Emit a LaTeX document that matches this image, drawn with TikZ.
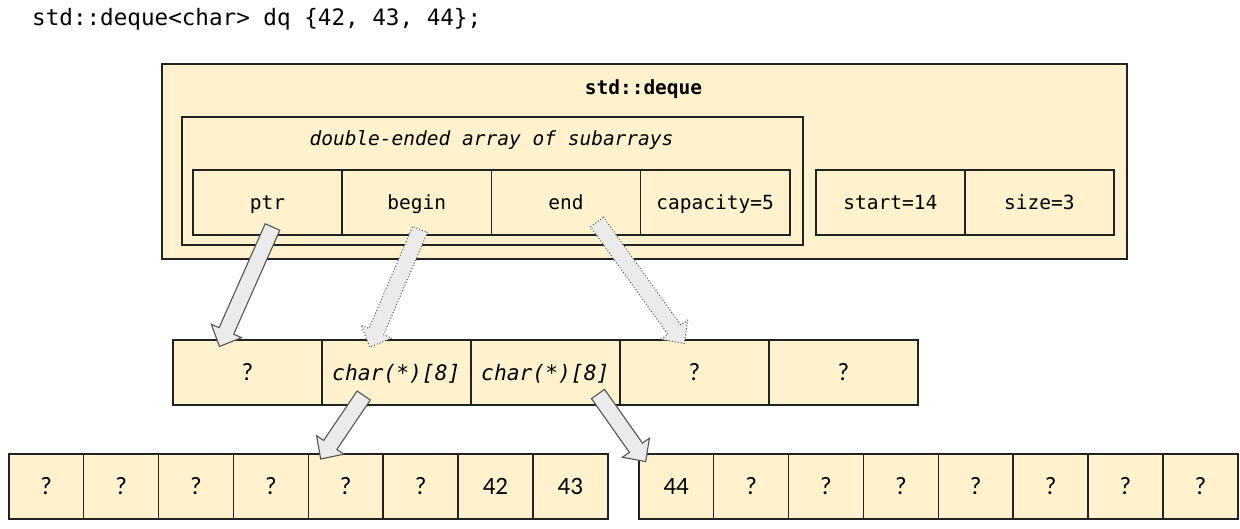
\documentclass[tikz,border=0pt]{standalone}
\usepackage{fontspec}
\setmonofont{DejaVu Sans Mono}
\newfontfamily\calfont{Carlito}
\usetikzlibrary{calc}
\definecolor{cellfill}{HTML}{FFF2CC}
\definecolor{linec}{HTML}{222222}
\definecolor{arrfill}{HTML}{EBEBEB}
\definecolor{arrline}{HTML}{555555}
\newcommand\blockarrow[3]{%
  \coordinate (hb) at ($(#2)!17pt!(#1)$);
  \filldraw[#3] ($(#1)!8pt!90:(#2)$) -- ($(hb)!8pt!-90:(#1)$) -- ($(hb)!16.5pt!-90:(#1)$)
    -- (#2) -- ($(hb)!16.5pt!90:(#1)$) -- ($(hb)!8pt!90:(#1)$) -- ($(#1)!8pt!-90:(#2)$) -- cycle;}
\begin{document}
\begin{tikzpicture}[x=1pt,y=-1pt,
  boxline/.style={draw=linec, fill=cellfill, line width=1.6pt, inner sep=0pt, anchor=north west},
  monocell/.style={boxline, minimum width=149.25pt, minimum height=65pt,
    font=\ttfamily\fontsize{19.5}{22}\selectfont, text height=15pt, text depth=0pt},
  itcell/.style={monocell, font=\ttfamily\itshape\fontsize{21.3}{24}\selectfont, text height=16pt},
  qcell/.style={monocell, font=\calfont\fontsize{25}{28}\selectfont, text height=17pt},
  smallcell/.style={qcell, minimum width=74.875pt},
  solidarr/.style={fill=arrfill, draw=arrline, line width=1.1pt},
  dotarr/.style={fill=arrfill, draw=arrline, line width=1.4pt, dash pattern=on 0pt off 3pt, line cap=round}]
\fill[white] (0,0) rectangle (1240,529);
\useasboundingbox (0,0) rectangle (1240,529);

% code line
\node[anchor=base west, inner sep=0pt, font=\ttfamily\fontsize{22.6}{26}\selectfont] (code) at (32,26)
  {std::deque<char> dq \{42, 43, 44\};};

% deque object
\node[boxline, minimum width=965pt, minimum height=195pt] (deque) at (161,63) {};
\node[anchor=base, inner sep=0pt, font=\ttfamily\bfseries\fontsize{19.5}{22}\selectfont] (dqlabel) at (643.5,95) {std::deque};
\node[boxline, minimum width=621pt, minimum height=128pt] (dea) at (181,116) {};
\node[anchor=base, inner sep=0pt, font=\ttfamily\itshape\fontsize{19.5}{22}\selectfont] (dealabel) at (491.5,146) {double-ended array of subarrays};

\node[monocell] (t0) at (192,169) {ptr};
\node[monocell] (t1) at (341.25,169) {begin};
\node[monocell] (t2) at (490.5,169) {end};
\node[monocell] (t3) at (639.75,169) {capacity=5};
\node[monocell, minimum width=149pt] (s0) at (815,169) {start=14};
\node[monocell, minimum width=149pt] (s1) at (964,169) {size=3};

% array of subarray pointers
\node[qcell, minimum width=149pt] (m0) at (172,339) {?};
\node[itcell, minimum width=149pt] (m1) at (321,339) {char(*)[8]};
\node[itcell, minimum width=149pt] (m2) at (470,339) {char(*)[8]};
\node[qcell, minimum width=149pt] (m3) at (619,339) {?};
\node[qcell, minimum width=149pt] (m4) at (768,339) {?};

% subarrays
\foreach \t [count=\i from 0] in {?,?,?,?,?,?,42,43}
  \node[smallcell] (b\i) at ({8+74.875*\i},453) {\t};
\foreach \t [count=\i from 0] in {44,?,?,?,?,?,?,?}
  \node[smallcell] (r\i) at ({638+74.875*\i},453) {\t};

% arrow end points
\coordinate (a1s) at (272.5,227);   \coordinate (a1e) at (219.5,346.5);
\coordinate (a2s) at (420,229.5);   \coordinate (a2e) at (369.7,347.2);
\coordinate (a3s) at (597,222);     \coordinate (a3e) at (684.3,343.5);
\coordinate (a4s) at (363.7,395.5); \coordinate (a4e) at (320.7,459);
\coordinate (a5s) at (598,394);     \coordinate (a5e) at (645.7,461.6);

\blockarrow{a1s}{a1e}{solidarr}
\blockarrow{a2s}{a2e}{dotarr}
\blockarrow{a3s}{a3e}{dotarr}
\blockarrow{a4s}{a4e}{solidarr}
\blockarrow{a5s}{a5e}{solidarr}
\end{tikzpicture}
\end{document}
